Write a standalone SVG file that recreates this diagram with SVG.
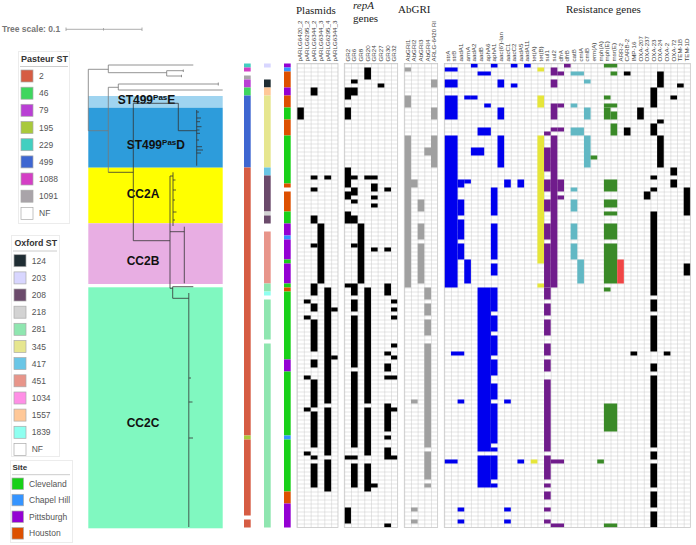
<svg xmlns="http://www.w3.org/2000/svg" width="696" height="545" viewBox="0 0 696 545">
<style>
text{font-family:"Liberation Sans",Arial,sans-serif}
.lt{font-size:8.5px;fill:#555}
.tt{font-size:9px;font-weight:bold;fill:#333}
.hl{font-size:6.2px;fill:#444}
.sec{font-family:"Liberation Serif","Times New Roman",serif;font-size:11px;fill:#222}
.cl{font-size:12px;font-weight:bold;fill:#111}
.sw{stroke:#aaa;stroke-width:0.7}
.tr{fill:none;stroke:#777;stroke-width:0.8}
.trd{fill:none;stroke:#333;stroke-width:0.8}
.k{fill:#000}.g{fill:#a0a0a0}.b{fill:#0000ee}.y{fill:#e6e63a}.p{fill:#701c8c}.c{fill:#62b8c4}.gr{fill:#3a8a28}.r{fill:#f04545}
.bd{fill:none;stroke:#c8c8c8;stroke-width:0.8}
</style>
<defs>
<pattern id="gp" x="297" y="63.5" width="6.83" height="4" patternUnits="userSpaceOnUse"><path d="M0,0.3H7M0.3,0V4" stroke="#c8c8c8" stroke-width="0.6" fill="none"/></pattern>
<pattern id="gq" x="344.3" y="63.5" width="6.67" height="4" patternUnits="userSpaceOnUse"><path d="M0,0.3H7M0.3,0V4" stroke="#c8c8c8" stroke-width="0.6" fill="none"/></pattern>
<pattern id="ga" x="404.3" y="63.5" width="6.67" height="4" patternUnits="userSpaceOnUse"><path d="M0,0.3H7M0.3,0V4" stroke="#c8c8c8" stroke-width="0.6" fill="none"/></pattern>
<pattern id="gres" x="444.3" y="63.5" width="6.65" height="4" patternUnits="userSpaceOnUse"><path d="M0,0.3H7M0.3,0V4" stroke="#c8c8c8" stroke-width="0.6" fill="none"/></pattern>
</defs>
<rect width="696" height="545" fill="#fff"/>

<g id="tree-scale">
<text x="2" y="32" style="font-size:8.5px;font-weight:bold;fill:#777">Tree scale: 0.1</text>
<path d="M66,29.3H142M66,27.5V31M103.5,28V30.6M142,27.5V31" stroke="#999" stroke-width="0.8" fill="none"/>
</g>

<g id="legend-pasteur">
<rect x="18.5" y="51.5" width="51" height="172" fill="none" stroke="#ececec"/>
<text class="tt" x="21" y="62">Pasteur ST</text>
<path d="M20,66.5H68" stroke="#ccc"/>
<rect class="sw" x="21" y="70" width="12" height="12" fill="#d65c43"/><text class="lt" x="39" y="79">2</text>
<rect class="sw" x="21" y="87.2" width="12" height="12" fill="#3ed65e"/><text class="lt" x="39" y="96.2">46</text>
<rect class="sw" x="21" y="104.3" width="12" height="12" fill="#b93fd4"/><text class="lt" x="39" y="113.3">79</text>
<rect class="sw" x="21" y="121.5" width="12" height="12" fill="#a9c93b"/><text class="lt" x="39" y="130.5">195</text>
<rect class="sw" x="21" y="138.7" width="12" height="12" fill="#42cfc0"/><text class="lt" x="39" y="147.7">229</text>
<rect class="sw" x="21" y="155.9" width="12" height="12" fill="#3e66d1"/><text class="lt" x="39" y="164.9">499</text>
<rect class="sw" x="21" y="173" width="12" height="12" fill="#d43ec5"/><text class="lt" x="39" y="182">1088</text>
<rect class="sw" x="21" y="190.2" width="12" height="12" fill="#a9a4a9"/><text class="lt" x="39" y="199.2">1091</text>
<rect class="sw" x="21" y="207.4" width="12" height="12" fill="#fff"/><text class="lt" x="39" y="216.4">NF</text>
</g>

<g id="legend-oxford">
<rect x="11.5" y="235.5" width="48" height="221" fill="none" stroke="#ececec"/>
<text class="tt" x="14.5" y="246" style="font-size:8.8px">Oxford ST</text>
<path d="M13,251H57" stroke="#ccc"/>
<rect class="sw" x="14" y="254.7" width="12" height="12" fill="#1f2d33"/><text class="lt" x="31.7" y="263.7">124</text>
<rect class="sw" x="14" y="271.9" width="12" height="12" fill="#d8d6ff"/><text class="lt" x="31.7" y="280.9">203</text>
<rect class="sw" x="14" y="289" width="12" height="12" fill="#6b4a6b"/><text class="lt" x="31.7" y="298">208</text>
<rect class="sw" x="14" y="306.2" width="12" height="12" fill="#d3d3d3"/><text class="lt" x="31.7" y="315.2">218</text>
<rect class="sw" x="14" y="323.3" width="12" height="12" fill="#8fe6b0"/><text class="lt" x="31.7" y="332.3">281</text>
<rect class="sw" x="14" y="340.5" width="12" height="12" fill="#e6e68f"/><text class="lt" x="31.7" y="349.5">345</text>
<rect class="sw" x="14" y="357.6" width="12" height="12" fill="#6ac6e6"/><text class="lt" x="31.7" y="366.6">417</text>
<rect class="sw" x="14" y="374.8" width="12" height="12" fill="#e8958a"/><text class="lt" x="31.7" y="383.8">451</text>
<rect class="sw" x="14" y="392" width="12" height="12" fill="#ff8fe6"/><text class="lt" x="31.7" y="401">1034</text>
<rect class="sw" x="14" y="409.1" width="12" height="12" fill="#ffc898"/><text class="lt" x="31.7" y="418.1">1557</text>
<rect class="sw" x="14" y="426.3" width="12" height="12" fill="#8ffff0"/><text class="lt" x="31.7" y="435.3">1839</text>
<rect class="sw" x="14" y="443.4" width="12" height="12" fill="#fff"/><text class="lt" x="31.7" y="452.4">NF</text>
</g>

<g id="legend-site">
<rect x="10.5" y="460.5" width="62" height="82" fill="none" stroke="#ececec"/>
<text class="tt" x="12.5" y="469.5" style="font-size:8px">Site</text>
<path d="M12,474.7H70" stroke="#ccc"/>
<rect class="sw" x="12" y="478" width="11.5" height="11.5" fill="#18d018"/><text class="lt" x="29" y="486.7">Cleveland</text>
<rect class="sw" x="12" y="494.3" width="11.5" height="11.5" fill="#3594ff"/><text class="lt" x="29" y="503">Chapel Hill</text>
<rect class="sw" x="12" y="511" width="11.5" height="11.5" fill="#9400d3"/><text class="lt" x="29" y="519.7">Pittsburgh</text>
<rect class="sw" x="12" y="527.6" width="11.5" height="11.5" fill="#dd5000"/><text class="lt" x="29" y="536.3">Houston</text>
</g>

<g id="clades">
<rect x="88.3" y="96" width="134.4" height="11.7" fill="#9fd4f0"/>
<rect x="88.3" y="107.7" width="134.4" height="60" fill="#2d9cdb"/>
<rect x="88.3" y="167.7" width="134.4" height="55.6" fill="#ffff00"/>
<rect x="88.3" y="223.3" width="134.4" height="60.7" fill="#e8aee3"/>
<rect x="88.3" y="287.3" width="134.4" height="241" fill="#80f8c0"/>
<text class="cl" x="117.7" y="104.3">ST499<tspan style="font-size:8px" dy="-4.5">Pas</tspan><tspan dy="4.5">E</tspan></text>
<text class="cl" x="126.7" y="149">ST499<tspan style="font-size:8px" dy="-4.5">Pas</tspan><tspan dy="4.5">D</tspan></text>
<text class="cl" x="126.7" y="198.3">CC2A</text>
<text class="cl" x="126.7" y="265">CC2B</text>
<text class="cl" x="126.7" y="426.7">CC2C</text>
</g>

<g id="tree">
<path class="tr" d="M88.3,69.3V130.7M88.3,69.3H108.3M108.3,65V72.7M108.3,65H193.3M108.3,72.7H166.7M166.7,70.7V76M166.7,70.7H183.3M183.3,69.5V72M166.7,76H181.5M181.5,74.8V77.2M88.3,130.7H108.3M108.3,87.3V172.3M108.3,87.3H118.3M118.3,84V90M118.3,84H218.3M218.3,82.5V85.5M118.3,90H222.7"/>
<path class="trd" d="M108.3,172.3H133.3M133.3,103.3V240.7M133.3,103.3H178.3M178.3,103.3V130.7M178.3,130.7H196.7M196.7,110V165.7M196.7,112H199M196.7,118H201M196.7,121.7H200M196.7,126.7H201.5M196.7,130H199.5M196.7,133.3H200M196.7,140H199M196.7,146.7H202M196.7,150H203M196.7,153H201M133.3,240.7H170M170,176V288.3M170,176H173M173,172.3V226M173,180H175.5M173,190H176M173,200H175M173,212H176.5M173,220H175M170,231.7H184.3M184.3,226.7V283.3M170,288.3H172.7M172.7,286.7V298.3M172.7,286.7H193.3M172.7,298.3H188.8M188.8,293V527M188.8,378H191M188.8,402H192.5M188.8,438H193"/>
</g>

<g id="st-columns" transform="translate(0,63.5) scale(1,4)">
<g id="pasteur">
<rect x="244" y="0" width="6.7" height="1" fill="#42cfc0"/><rect x="244" y="1" width="6.7" height="1" fill="#d43ec5"/><rect x="244" y="3" width="6.7" height="1" fill="#a9a4a9"/><rect x="244" y="4" width="6.7" height="2" fill="#b93fd4"/><rect x="244" y="6" width="6.7" height="2" fill="#3ed65e"/><rect x="244" y="8" width="6.7" height="18" fill="#3e66d1"/><rect x="244" y="26" width="6.7" height="67" fill="#d65c43"/><rect x="244" y="93" width="6.7" height="1" fill="#a9c93b"/><rect x="244" y="94" width="6.7" height="19" fill="#d65c43"/><rect x="244" y="114" width="6.7" height="2" fill="#d65c43"/>
</g>
<g id="oxford">
<rect x="264" y="0" width="6.7" height="1" fill="#d8d6ff"/><rect x="264" y="4" width="6.7" height="2" fill="#1f2d33"/><rect x="264" y="6" width="6.7" height="2" fill="#ffc898"/><rect x="264" y="8" width="6.7" height="18" fill="#e6e68f"/><rect x="264" y="26" width="6.7" height="2" fill="#6ac6e6"/><rect x="264" y="28" width="6.7" height="9" fill="#6b4a6b"/><rect x="264" y="37" width="6.7" height="1" fill="#d3d3d3"/><rect x="264" y="38" width="6.7" height="2" fill="#6b4a6b"/><rect x="264" y="42" width="6.7" height="13" fill="#e8958a"/><rect x="264" y="55" width="6.7" height="2" fill="#8fe6b0"/><rect x="264" y="57" width="6.7" height="1" fill="#8ffff0"/><rect x="264" y="59" width="6.7" height="10" fill="#8fe6b0"/><rect x="264" y="70" width="6.7" height="46" fill="#8fe6b0"/>
</g>
<g id="site">
<rect x="284" y="0" width="6.7" height="1" fill="#9400d3"/><rect x="284" y="1" width="6.7" height="1" fill="#3594ff"/><rect x="284" y="2" width="6.7" height="4" fill="#dd5000"/><rect x="284" y="6" width="6.7" height="2" fill="#9400d3"/><rect x="284" y="8" width="6.7" height="3" fill="#dd5000"/><rect x="284" y="11" width="6.7" height="3" fill="#18d018"/><rect x="284" y="14" width="6.7" height="4" fill="#dd5000"/><rect x="284" y="18" width="6.7" height="12" fill="#18d018"/><rect x="284" y="30" width="6.7" height="1" fill="#dd5000"/><rect x="284" y="32" width="6.7" height="5" fill="#dd5000"/><rect x="284" y="37" width="6.7" height="3" fill="#18d018"/><rect x="284" y="40" width="6.7" height="3" fill="#9400d3"/><rect x="284" y="43" width="6.7" height="1" fill="#3594ff"/><rect x="284" y="44" width="6.7" height="5" fill="#9400d3"/><rect x="284" y="49" width="6.7" height="1" fill="#18d018"/><rect x="284" y="50" width="6.7" height="5" fill="#9400d3"/><rect x="284" y="55" width="6.7" height="1" fill="#18d018"/><rect x="284" y="56" width="6.7" height="1" fill="#dd5000"/><rect x="284" y="57" width="6.7" height="17" fill="#18d018"/><rect x="284" y="74" width="6.7" height="3" fill="#9400d3"/><rect x="284" y="77" width="6.7" height="16" fill="#18d018"/><rect x="284" y="93" width="6.7" height="1" fill="#3594ff"/><rect x="284" y="94" width="6.7" height="13" fill="#18d018"/><rect x="284" y="107" width="6.7" height="3" fill="#dd5000"/><rect x="284" y="110" width="6.7" height="6" fill="#9400d3"/>
</g>
</g>

<g id="headers">
<text class="sec" x="296" y="14">Plasmids</text>
<text class="sec" x="353" y="9" style="font-style:italic">repA</text>
<text class="sec" x="353" y="22">genes</text>
<text class="sec" x="398" y="12.5">AbGRI</text>
<text class="sec" x="566" y="12.5">Resistance genes</text>
<g class="hl">
<text transform="translate(302.4,61.5) rotate(-90)">pARLG6420_2</text>
<text transform="translate(309.2,61.5) rotate(-90)">pARLG6295_2</text>
<text transform="translate(316.1,61.5) rotate(-90)">pARLG6344_2</text>
<text transform="translate(322.9,61.5) rotate(-90)">pARLG6344_3</text>
<text transform="translate(329.7,61.5) rotate(-90)">pARLG6295_4</text>
<text transform="translate(336.6,61.5) rotate(-90)">pARLG6344_3</text>
<text transform="translate(349.6,61.5) rotate(-90)">GR2</text>
<text transform="translate(356.3,61.5) rotate(-90)">GR6</text>
<text transform="translate(363,61.5) rotate(-90)">GR8</text>
<text transform="translate(369.6,61.5) rotate(-90)">GR20</text>
<text transform="translate(376.3,61.5) rotate(-90)">GR24</text>
<text transform="translate(383,61.5) rotate(-90)">GR27</text>
<text transform="translate(389.7,61.5) rotate(-90)">GR30</text>
<text transform="translate(396.3,61.5) rotate(-90)">GR32</text>
<text transform="translate(409.6,61.5) rotate(-90)">AbGRI1</text>
<text transform="translate(416.3,61.5) rotate(-90)">AbGRI2</text>
<text transform="translate(423,61.5) rotate(-90)">AbGRI3</text>
<text transform="translate(429.6,61.5) rotate(-90)">AbGRI4</text>
<text transform="translate(436.3,61.5) rotate(-90)">ARLG-6420 RI</text>
<text transform="translate(449.6,61.5) rotate(-90)">strA</text>
<text transform="translate(456.3,61.5) rotate(-90)">strB</text>
<text transform="translate(462.9,61.5) rotate(-90)">aadA1</text>
<text transform="translate(469.6,61.5) rotate(-90)">armA</text>
<text transform="translate(476.2,61.5) rotate(-90)">aadA2</text>
<text transform="translate(482.9,61.5) rotate(-90)">aadB</text>
<text transform="translate(489.5,61.5) rotate(-90)">aphA6</text>
<text transform="translate(496.2,61.5) rotate(-90)">aphA1</text>
<text transform="translate(502.8,61.5) rotate(-90)">aac(6')-Ian</text>
<text transform="translate(509.5,61.5) rotate(-90)">aacC1</text>
<text transform="translate(516.1,61.5) rotate(-90)">aacC2</text>
<text transform="translate(522.8,61.5) rotate(-90)">aadA5</text>
<text transform="translate(529.4,61.5) rotate(-90)">aadA11</text>
<text transform="translate(536.1,61.5) rotate(-90)">tet(A)</text>
<text transform="translate(542.7,61.5) rotate(-90)">tet(B)</text>
<text transform="translate(549.4,61.5) rotate(-90)">sul1</text>
<text transform="translate(556,61.5) rotate(-90)">sul2</text>
<text transform="translate(562.7,61.5) rotate(-90)">dfrA</text>
<text transform="translate(569.3,61.5) rotate(-90)">dfrB</text>
<text transform="translate(576,61.5) rotate(-90)">catB</text>
<text transform="translate(582.6,61.5) rotate(-90)">cmlA</text>
<text transform="translate(589.3,61.5) rotate(-90)">cmlB</text>
<text transform="translate(595.9,61.5) rotate(-90)">erm(A)</text>
<text transform="translate(602.6,61.5) rotate(-90)">mph(A)</text>
<text transform="translate(609.2,61.5) rotate(-90)">mph(E)</text>
<text transform="translate(615.9,61.5) rotate(-90)">msr(E)</text>
<text transform="translate(622.5,61.5) rotate(-90)">ARR-2</text>
<text transform="translate(629.2,61.5) rotate(-90)">CARB-2</text>
<text transform="translate(635.8,61.5) rotate(-90)">IMP-16</text>
<text transform="translate(642.5,61.5) rotate(-90)">OXA-207</text>
<text transform="translate(649.1,61.5) rotate(-90)">OXA-237</text>
<text transform="translate(655.8,61.5) rotate(-90)">OXA-23</text>
<text transform="translate(662.4,61.5) rotate(-90)">OXA-24</text>
<text transform="translate(669.1,61.5) rotate(-90)">OXA-2</text>
<text transform="translate(675.7,61.5) rotate(-90)">OXA-72</text>
<text transform="translate(682.4,61.5) rotate(-90)">TEM-1B</text>
<text transform="translate(689,61.5) rotate(-90)">TEM-1D</text>
</g>
</g>

<g id="grid-backgrounds">
<rect x="297" y="63.5" width="40.98" height="464" fill="url(#gp)"/>
<rect x="344.3" y="63.5" width="53.36" height="464" fill="url(#gq)"/>
<rect x="404.3" y="63.5" width="33.35" height="464" fill="url(#ga)"/>
<rect x="444.3" y="63.5" width="246.05" height="464" fill="url(#gres)"/>
</g>

<g id="plasmids" transform="translate(297,63.5) scale(6.83,4)" class="k">
<rect x="0" y="11" width="1" height="3"/>
<rect x="1" y="59" width="1" height="1"/><rect x="1" y="63" width="1" height="1"/><rect x="1" y="78" width="1" height="1"/><rect x="1" y="86" width="1" height="1"/><rect x="1" y="97" width="1" height="1"/>
<rect x="2" y="6" width="1" height="2"/><rect x="2" y="28" width="1" height="1"/><rect x="2" y="31" width="1" height="1"/><rect x="2" y="38" width="1" height="2"/><rect x="2" y="45" width="1" height="1"/><rect x="2" y="55" width="1" height="3"/><rect x="2" y="60" width="1" height="2"/><rect x="2" y="64" width="1" height="8"/><rect x="2" y="74" width="1" height="2"/><rect x="2" y="79" width="1" height="7"/><rect x="2" y="87" width="1" height="9"/><rect x="2" y="98" width="1" height="1"/><rect x="2" y="100" width="1" height="6"/>
<rect x="3" y="40" width="1" height="15"/>
<rect x="4" y="28" width="1" height="1"/><rect x="4" y="56" width="1" height="29"/><rect x="4" y="86" width="1" height="12"/><rect x="4" y="99" width="1" height="8"/>
<rect x="5" y="61" width="1" height="1"/><rect x="5" y="73" width="1" height="1"/>
</g>

<g id="repA" transform="translate(344.3,63.5) scale(6.67,4)" class="k">
<rect x="0" y="6" width="1" height="3"/><rect x="0" y="11" width="1" height="3"/><rect x="0" y="26" width="1" height="5"/><rect x="0" y="32" width="1" height="2"/><rect x="0" y="37" width="1" height="3"/><rect x="0" y="55" width="1" height="1"/><rect x="0" y="98" width="1" height="1"/><rect x="0" y="111" width="1" height="4"/>
<rect x="1" y="4" width="1" height="1"/><rect x="1" y="6" width="1" height="2"/><rect x="1" y="28" width="1" height="1"/><rect x="1" y="31" width="1" height="2"/><rect x="1" y="34" width="1" height="1"/><rect x="1" y="38" width="1" height="2"/><rect x="1" y="45" width="1" height="1"/><rect x="1" y="55" width="1" height="3"/><rect x="1" y="59" width="1" height="3"/><rect x="1" y="63" width="1" height="13"/><rect x="1" y="77" width="1" height="19"/><rect x="1" y="98" width="1" height="1"/><rect x="1" y="100" width="1" height="6"/>
<rect x="2" y="40" width="1" height="15"/>
<rect x="3" y="1" width="1" height="3"/><rect x="3" y="28" width="1" height="1"/><rect x="3" y="56" width="1" height="29"/><rect x="3" y="86" width="1" height="12"/><rect x="3" y="100" width="1" height="7"/>
<rect x="4" y="28" width="1" height="1"/><rect x="4" y="30" width="1" height="2"/><rect x="4" y="33" width="1" height="1"/><rect x="4" y="35" width="1" height="1"/><rect x="4" y="46" width="1" height="1"/><rect x="4" y="105" width="1" height="1"/>
<rect x="5" y="5" width="1" height="1"/>
<rect x="6" y="31" width="1" height="1"/><rect x="6" y="46" width="1" height="1"/><rect x="6" y="55" width="1" height="3"/><rect x="6" y="72" width="1" height="1"/><rect x="6" y="75" width="1" height="2"/><rect x="6" y="78" width="1" height="1"/><rect x="6" y="85" width="1" height="7"/><rect x="6" y="93" width="1" height="1"/><rect x="6" y="96" width="1" height="3"/><rect x="6" y="115" width="1" height="1"/>
<rect x="7" y="59" width="1" height="1"/><rect x="7" y="61" width="1" height="1"/><rect x="7" y="63" width="1" height="1"/><rect x="7" y="70" width="1" height="1"/><rect x="7" y="73" width="1" height="1"/><rect x="7" y="78" width="1" height="1"/><rect x="7" y="86" width="1" height="1"/><rect x="7" y="98" width="1" height="1"/>
</g>

<g id="abgri" transform="translate(404.3,63.5) scale(6.67,4)" class="g">
<rect x="0" y="1" width="1" height="1"/><rect x="0" y="8" width="1" height="3"/><rect x="0" y="18" width="1" height="38"/>
<rect x="1" y="29" width="1" height="2"/><rect x="1" y="84" width="1" height="1"/><rect x="1" y="111" width="1" height="1"/><rect x="1" y="114" width="1" height="1"/>
<rect x="2" y="34" width="1" height="3"/><rect x="2" y="40" width="1" height="4"/><rect x="2" y="45" width="1" height="10"/>
<rect x="3" y="21" width="1" height="2"/><rect x="3" y="56" width="1" height="3"/><rect x="3" y="60" width="1" height="3"/><rect x="3" y="64" width="1" height="4"/><rect x="3" y="70" width="1" height="26"/><rect x="3" y="97" width="1" height="7"/><rect x="3" y="105" width="1" height="1"/>
<rect x="4" y="4" width="1" height="2"/><rect x="4" y="11" width="1" height="3"/><rect x="4" y="18" width="1" height="8"/>
</g>

<g id="resistance" transform="translate(444.3,63.5) scale(6.65,4)">
<g class="b">
<rect x="0" y="1" width="2" height="1"/><rect x="0" y="4" width="2" height="2"/><rect x="0" y="8" width="2" height="6"/><rect x="0" y="18" width="2" height="38"/><rect x="0" y="99" width="2" height="1"/><rect x="1" y="72" width="2" height="1"/>
<rect x="2" y="29" width="1" height="2"/><rect x="2" y="34" width="1" height="4"/><rect x="2" y="39" width="1" height="5"/><rect x="2" y="45" width="1" height="4"/><rect x="2" y="84" width="1" height="1"/><rect x="2" y="111" width="1" height="1"/><rect x="2" y="114" width="1" height="1"/>
<rect x="3" y="8" width="1" height="1"/><rect x="3" y="29" width="1" height="1"/><rect x="3" y="49" width="1" height="6"/>
<rect x="4" y="0" width="1" height="1"/><rect x="4" y="8" width="1" height="1"/><rect x="4" y="21" width="2" height="2"/>
<rect x="5" y="2" width="2" height="1"/><rect x="5" y="16" width="2" height="2"/><rect x="5" y="56" width="2" height="41"/><rect x="5" y="98" width="2" height="8"/><rect x="6" y="10" width="1" height="1"/>
<rect x="7" y="0" width="1" height="1"/><rect x="7" y="31" width="1" height="7"/><rect x="7" y="40" width="1" height="9"/><rect x="7" y="50" width="1" height="3"/><rect x="7" y="56" width="1" height="6"/><rect x="7" y="63" width="1" height="4"/><rect x="7" y="68" width="1" height="5"/><rect x="7" y="74" width="1" height="4"/><rect x="7" y="80" width="1" height="4"/><rect x="7" y="85" width="1" height="10"/><rect x="7" y="96" width="1" height="1"/><rect x="7" y="98" width="1" height="6"/><rect x="7" y="105" width="1" height="1"/>
<rect x="8" y="4" width="1" height="2"/><rect x="8" y="11" width="1" height="3"/><rect x="8" y="18" width="1" height="8"/>
<rect x="9" y="29" width="1" height="2"/><rect x="9" y="84" width="1" height="1"/><rect x="9" y="111" width="1" height="1"/><rect x="9" y="114" width="1" height="1"/>
<rect x="10" y="0" width="1" height="1"/><rect x="10" y="5" width="1" height="1"/>
<rect x="11" y="29" width="1" height="2"/><rect x="11" y="99" width="1" height="1"/>
<rect x="12" y="0" width="1" height="1"/>
</g>
<g class="y">
<rect x="13" y="99" width="1" height="1"/><rect x="14" y="1" width="1" height="1"/><rect x="14" y="8" width="1" height="3"/><rect x="14" y="18" width="1" height="32"/><rect x="14" y="55" width="1" height="1"/>
</g>
<g class="p">
<rect x="15" y="17" width="1" height="1"/><rect x="15" y="21" width="1" height="6"/><rect x="15" y="29" width="1" height="3"/><rect x="15" y="34" width="1" height="3"/><rect x="15" y="40" width="1" height="4"/><rect x="15" y="45" width="1" height="11"/><rect x="15" y="56" width="1" height="3"/><rect x="15" y="60" width="1" height="3"/><rect x="15" y="64" width="1" height="4"/><rect x="15" y="70" width="1" height="3"/><rect x="15" y="74" width="1" height="3"/><rect x="15" y="79" width="1" height="18"/><rect x="15" y="98" width="1" height="6"/><rect x="15" y="105" width="1" height="1"/><rect x="15" y="107" width="1" height="2"/><rect x="15" y="111" width="1" height="1"/><rect x="15" y="114" width="1" height="1"/>
<rect x="16" y="1" width="1" height="2"/><rect x="16" y="4" width="1" height="2"/><rect x="16" y="10" width="1" height="4"/><rect x="16" y="16" width="1" height="1"/><rect x="16" y="18" width="1" height="38"/><rect x="16" y="99" width="2" height="1"/><rect x="16" y="115" width="2" height="1"/>
<rect x="17" y="2" width="1" height="1"/><rect x="17" y="10" width="1" height="1"/><rect x="17" y="16" width="1" height="1"/><rect x="17" y="29" width="1" height="3"/><rect x="17" y="33" width="1" height="1"/>
<rect x="18" y="0" width="1" height="1"/>
</g>
<g class="c">
<rect x="19" y="2" width="2" height="1"/><rect x="19" y="10" width="1" height="1"/><rect x="19" y="16" width="2" height="2"/><rect x="19" y="31" width="1" height="1"/><rect x="19" y="34" width="1" height="3"/><rect x="19" y="40" width="1" height="4"/><rect x="19" y="45" width="1" height="4"/>
<rect x="20" y="49" width="1" height="6"/>
<rect x="21" y="4" width="1" height="1"/><rect x="21" y="11" width="1" height="3"/><rect x="21" y="18" width="1" height="8"/>
</g>
<g class="gr">
<rect x="22" y="23" width="1" height="1"/><rect x="23" y="99" width="1" height="1"/>
<rect x="24" y="0" width="2" height="1"/><rect x="24" y="8" width="1" height="1"/><rect x="24" y="10" width="2" height="1"/><rect x="24" y="11" width="1" height="3"/><rect x="25" y="12" width="1" height="2"/><rect x="25" y="2" width="1" height="1"/><rect x="25" y="15" width="1" height="3"/>
<rect x="24" y="29" width="2" height="3"/><rect x="24" y="34" width="2" height="2"/><rect x="24" y="37" width="2" height="1"/><rect x="24" y="40" width="2" height="4"/><rect x="24" y="45" width="2" height="10"/><rect x="24" y="56" width="1" height="1"/><rect x="24" y="85" width="2" height="7"/><rect x="24" y="115" width="2" height="1"/>
</g>
<g class="r"><rect x="26" y="49" width="1" height="6"/></g>
<g class="k">
<rect x="27" y="2" width="1" height="1"/><rect x="27" y="16" width="1" height="2"/>
<rect x="28" y="72" width="1" height="1"/>
<rect x="29" y="11" width="1" height="3"/>
<rect x="30" y="32" width="1" height="2"/>
<rect x="31" y="6" width="1" height="5"/><rect x="31" y="15" width="1" height="3"/><rect x="31" y="28" width="1" height="1"/><rect x="31" y="31" width="1" height="1"/><rect x="31" y="37" width="1" height="21"/><rect x="31" y="59" width="1" height="3"/><rect x="31" y="63" width="1" height="9"/><rect x="31" y="75" width="1" height="2"/><rect x="31" y="78" width="1" height="18"/><rect x="31" y="97" width="1" height="2"/><rect x="31" y="100" width="1" height="6"/><rect x="31" y="107" width="1" height="4"/><rect x="31" y="112" width="1" height="4"/>
<rect x="32" y="2" width="1" height="4"/><rect x="32" y="14" width="1" height="1"/><rect x="32" y="18" width="1" height="8"/>
<rect x="33" y="72" width="1" height="1"/>
<rect x="34" y="8" width="1" height="1"/><rect x="34" y="26" width="1" height="2"/><rect x="34" y="29" width="1" height="2"/>
<rect x="35" y="5" width="1" height="1"/>
<rect x="36" y="31" width="1" height="7"/><rect x="36" y="50" width="1" height="3"/>
</g>
</g>

<g id="grid-borders">
<rect class="bd" x="297" y="63.5" width="40.98" height="464"/>
<rect class="bd" x="344.3" y="63.5" width="53.36" height="464"/>
<rect class="bd" x="404.3" y="63.5" width="33.35" height="464"/>
<rect class="bd" x="444.3" y="63.5" width="246.05" height="464"/>
</g>
</svg>
